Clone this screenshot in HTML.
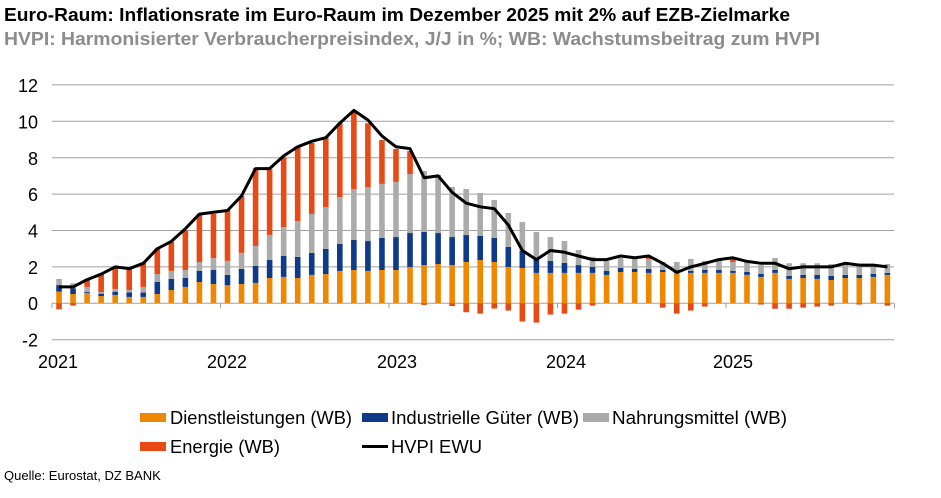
<!DOCTYPE html>
<html><head><meta charset="utf-8"><style>
body{margin:0;background:#fff;width:941px;height:493px;overflow:hidden;font-family:"Liberation Sans",Arial,sans-serif}
</style></head><body>
<svg id="s" width="941" height="493" xmlns="http://www.w3.org/2000/svg" font-family="Liberation Sans, Arial, sans-serif">
<text x="4" y="21" font-size="18.5" font-weight="bold" fill="#000" textLength="786" lengthAdjust="spacingAndGlyphs">Euro-Raum: Inflationsrate im Euro-Raum im Dezember 2025 mit 2% auf EZB-Zielmarke</text>
<text x="4" y="45" font-size="18.5" font-weight="bold" fill="#8c8c8c" textLength="816" lengthAdjust="spacingAndGlyphs">HVPI: Harmonisierter Verbraucherpreisindex, J/J in %; WB: Wachstumsbeitrag zum HVPI</text>
<g id="grid"></g>
<g id="bars"></g>
<polyline id="line" fill="none" stroke="#000" stroke-width="3" stroke-linejoin="round"/>
<g font-size="18" fill="#000">
<text x="38" y="92" text-anchor="end">12</text>
<text x="38" y="128.5" text-anchor="end">10</text>
<text x="38" y="165" text-anchor="end">8</text>
<text x="38" y="201" text-anchor="end">6</text>
<text x="38" y="237.5" text-anchor="end">4</text>
<text x="38" y="274" text-anchor="end">2</text>
<text x="38" y="310" text-anchor="end">0</text>
<text x="38" y="346.5" text-anchor="end">-2</text>
<text x="58" y="368" text-anchor="middle">2021</text>
<text x="227" y="368" text-anchor="middle">2022</text>
<text x="397" y="368" text-anchor="middle">2023</text>
<text x="566" y="368" text-anchor="middle">2024</text>
<text x="733" y="368" text-anchor="middle">2025</text>
</g>
<g font-size="18" fill="#000">
<rect x="140" y="413" width="26" height="9" fill="#F08700"/><text x="170" y="424" textLength="182" lengthAdjust="spacingAndGlyphs">Dienstleistungen (WB)</text>
<rect x="362" y="413" width="26" height="9" fill="#0E3A8A"/><text x="391" y="424" textLength="188" lengthAdjust="spacingAndGlyphs">Industrielle Güter (WB)</text>
<rect x="583" y="413" width="26" height="9" fill="#ABABAB"/><text x="612" y="424" textLength="175" lengthAdjust="spacingAndGlyphs">Nahrungsmittel (WB)</text>
<rect x="140" y="442" width="26" height="9" fill="#E84A15"/><text x="170" y="453" textLength="110" lengthAdjust="spacingAndGlyphs">Energie (WB)</text>
<line x1="362" y1="446.5" x2="388" y2="446.5" stroke="#000" stroke-width="3"/><text x="391" y="453" textLength="91" lengthAdjust="spacingAndGlyphs">HVPI EWU</text>
</g>
<text x="4" y="480" font-size="13" fill="#000">Quelle: Eurostat, DZ BANK</text>
</svg>
<script>
var D=[
[0.64,1.0,1.34,-0.33,0.9],[0.51,0.82,1.1,-0.13,0.9],[0.57,0.62,0.9,1.32,1.3],[0.40,0.53,0.62,1.6,1.6],[0.46,0.64,0.79,1.98,2.0],[0.35,0.6,0.73,1.89,1.9],
[0.35,0.59,0.9,2.23,2.2],[0.51,1.17,1.61,3.02,3.0],[0.73,1.34,1.78,3.39,3.4],[0.9,1.39,1.83,4.01,4.1],[1.17,1.78,2.27,4.91,4.9],[1.06,1.83,2.49,4.91,5.0],
[0.99,1.56,2.33,5.13,5.1],[1.06,1.89,2.77,5.9,5.9],[1.12,2.05,3.15,7.42,7.4],[1.39,2.38,3.75,7.36,7.4],[1.45,2.6,4.19,8.02,8.1],[1.39,2.55,4.52,8.63,8.6],
[1.56,2.77,4.91,8.81,8.9],[1.61,2.99,5.29,9.12,9.1],[1.78,3.26,5.84,9.89,9.9],[1.83,3.48,6.28,10.5,10.6],[1.78,3.42,6.39,9.89,10.07],[1.83,3.59,6.56,8.97,9.2],
[1.83,3.64,6.67,8.48,8.6],[2.0,3.86,7.1,8.37,8.5],[2.1,3.92,7.27,-0.09,6.9],[2.16,3.86,7.0,7.05,7.0],[2.1,3.64,6.39,-0.15,6.1],[2.27,3.75,6.28,-0.49,5.5],
[2.38,3.7,6.06,-0.57,5.3],[2.27,3.59,5.68,-0.29,5.2],[2.0,3.1,4.96,-0.4,4.3],[1.94,2.88,4.47,-1.0,2.9],[1.67,2.38,3.92,-1.06,2.4],[1.67,2.33,3.64,-0.62,2.9],
[1.67,2.22,3.42,-0.57,2.8],[1.67,2.1,2.93,-0.35,2.6],[1.67,2.0,2.55,-0.13,2.4],[1.56,1.78,2.33,0,2.4],[1.72,1.94,2.49,0,2.6],[1.72,1.89,2.49,0,2.5],
[1.67,1.89,2.44,2.55,2.6],[1.72,1.83,2.27,-0.24,2.2],[1.67,1.78,2.27,-0.57,1.7],[1.67,1.78,2.44,-0.4,2.0],[1.67,1.83,2.33,-0.18,2.2],[1.67,1.83,2.44,0,2.4],
[1.67,1.78,2.27,2.44,2.5],[1.56,1.72,2.27,0,2.3],[1.45,1.61,2.1,-0.07,2.2],[1.67,1.83,2.49,-0.3,2.2],[1.34,1.5,2.2,-0.3,1.9],[1.39,1.56,2.2,-0.24,2.0],
[1.34,1.56,2.2,-0.18,2.0],[1.28,1.5,2.16,-0.13,2.0],[1.39,1.56,2.27,0,2.2],[1.39,1.56,2.1,-0.07,2.1],[1.45,1.61,2.16,0,2.1],[1.56,1.67,2.16,-0.13,2.0]];
var NS="http://www.w3.org/2000/svg",Z=303.3,U=18.2,X0=52,W=14.04;
function el(g,t,a){var e=document.createElementNS(NS,t);for(var k in a)e.setAttribute(k,a[k]);g.appendChild(e);return e}
var g=document.getElementById('grid');
for(var v=-2;v<=12;v+=2){if(v==0)continue;el(g,'line',{x1:52,x2:894,y1:Z-v*U,y2:Z-v*U,stroke:'#a0a0a0','stroke-width':1});}
el(g,'line',{x1:52,x2:894,y1:Z,y2:Z,stroke:'#a0a0a0','stroke-width':1});
for(var k=0;k<=5;k++){var x=X0+k*168.5;el(g,'line',{x1:x,x2:x,y1:Z,y2:Z+5,stroke:'#a0a0a0','stroke-width':1});}
var b=document.getElementById('bars'),pts=[];
var C=['#F08700','#0E3A8A','#ABABAB','#E84A15'];
D.forEach(function(d,i){var cx=X0+(i+0.5)*W,x=cx-2.8,w=5.6;
 var prev=0;for(var j=0;j<3;j++){if(d[j]>prev)el(b,'rect',{x:x,width:w,y:Z-d[j]*U,height:(d[j]-prev)*U,fill:C[j]});prev=Math.max(prev,d[j]);}
 if(d[3]>prev)el(b,'rect',{x:x,width:w,y:Z-d[3]*U,height:(d[3]-prev)*U,fill:C[3]});
 if(d[3]<0)el(b,'rect',{x:x,width:w,y:Z,height:-d[3]*U,fill:C[3]});
 pts.push(cx.toFixed(1)+','+(Z-d[4]*U).toFixed(1));});
document.getElementById('line').setAttribute('points',pts.join(' '));
</script>
</body></html>
